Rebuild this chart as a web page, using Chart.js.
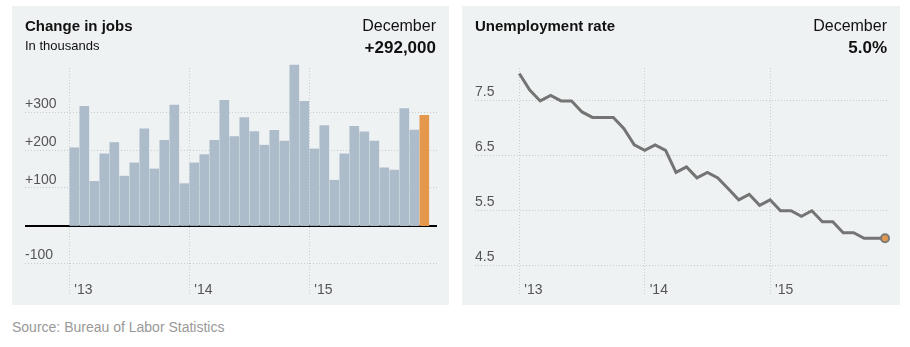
<!DOCTYPE html>
<html>
<head>
<meta charset="utf-8">
<script src="https://cdn.jsdelivr.net/npm/chart.js@4.4.1/dist/chart.umd.min.js"></script>
<style>
  html, body { margin: 0; padding: 0; background: #fff; }
  body { width: 910px; height: 347px; position: relative; overflow: hidden; font-family: 'Liberation Sans', Arial, sans-serif; }
  .panel { position: absolute; top: 6px; height: 299px; background: #eff2f3; }
  .panel canvas { position: absolute; left: 0; top: 0; }
  .txt { position: absolute; white-space: nowrap; color: #111; line-height: 20px; }
  .title { left: 13px; top: 10px; font-size: 15px; font-weight: bold; }
  .sub { left: 13px; top: 30px; font-size: 13px; }
  .month { right: 13px; top: 10px; font-size: 16px; }
  .latest { right: 13px; top: 32px; font-size: 17px; font-weight: bold; }
  .source { left: 12px; top: 317px; font-size: 14px; color: #999; }
</style>
</head>
<body>
<div class="panel" style="left:12px;width:437px;">
  <canvas id="jobs" width="437" height="299"></canvas>
  <div class="txt title">Change in jobs</div>
  <div class="txt sub">In thousands</div>
  <div class="txt month">December</div>
  <div class="txt latest">+292,000</div>
</div>
<div class="panel" style="left:462px;width:438px;">
  <canvas id="rate" width="438" height="299"></canvas>
  <div class="txt title">Unemployment rate</div>
  <div class="txt month">December</div>
  <div class="txt latest">5.0%</div>
</div>
<div class="txt source">Source: Bureau of Labor Statistics</div>

<script>
// monthly values, Jan 2013 .. Dec 2015
const jobChange = [
  206, 316, 117, 190, 220, 131, 166, 256, 150, 226, 319, 111,
  166, 188, 226, 332, 236, 286, 249, 213, 252, 224, 425, 329,
  203, 265, 120, 190, 263, 248, 224, 153, 147, 310, 253, 292
];
const unemploymentRate = [
  8.0, 7.7, 7.5, 7.6, 7.5, 7.5, 7.3, 7.2, 7.2, 7.2, 7.0, 6.7,
  6.6, 6.7, 6.6, 6.2, 6.3, 6.1, 6.2, 6.1, 5.9, 5.7, 5.8, 5.6,
  5.7, 5.5, 5.5, 5.4, 5.5, 5.3, 5.3, 5.1, 5.1, 5.0, 5.0, 5.0
];
const yearStart = [0, 12, 24];          // month index of each January
const yearLabels = ["'13", "'14", "'15"];
const jobTicks = [-100, 100, 200, 300];
const rateTicks = [4.5, 5.5, 6.5, 7.5];

const BLUE = '#adbccb';
const ORANGE = '#e3984c';
const GRID = '#c9cdd0';
const TICK = '#555';

Chart.defaults.font.family = "'Liberation Sans', Arial, sans-serif";

// shared x axis: dotted year lines, labels tucked inside the plot at the bottom
const xAxis = (min, max) => ({
  type: 'linear', min: min, max: max,
  offset: false,
  afterBuildTicks: s => { s.ticks = yearStart.map(v => ({ value: v })); },
  afterFit: s => { s.height = 0; },
  grid: { color: GRID, drawTicks: false, offset: false },
  border: { display: false, dash: [1, 2] },
  ticks: {
    autoSkip: false, maxRotation: 0, mirror: true, align: 'start', labelOffset: 5, padding: -5,
    color: TICK, font: { size: 14 },
    callback: (v, i) => yearLabels[i]
  }
});

const yAxis = (min, max, vals, fmt, lift) => ({
  min: min, max: max,
  afterBuildTicks: s => { s.ticks = vals.map(v => ({ value: v })); },
  afterFit: s => { s.width = 0; },
  grid: { color: GRID, drawTicks: false },
  border: { display: false, dash: [1, 2] },
  ticks: { mirror: true, padding: 0, labelOffset: lift, color: TICK, font: { size: 14 }, callback: fmt }
});

const jobsMin = -181.3, jobsMax = 417.4;

new Chart(document.getElementById('jobs'), {
  type: 'bar',
  data: {
    datasets: [{
      data: jobChange.map((v, i) => ({ x: i + 0.5, y: v })),
      backgroundColor: jobChange.map((v, i) => i === jobChange.length - 1 ? ORANGE : BLUE),
      barThickness: 9,
      yAxisID: 'y',
      clip: false
    }]
  },
  options: {
    responsive: false,
    animation: false,
    layout: { padding: { left: 13, right: 12, top: 62, bottom: 11 } },
    plugins: { legend: { display: false }, tooltip: { enabled: false } },
    scales: {
      x: xAxis(-4.43, 36.77),
      y: yAxis(jobsMin, jobsMax, jobTicks, v => (v > 0 ? '+' : '') + v, -8),
      zero: {
        axis: 'y', position: 'left', type: 'linear', min: jobsMin, max: jobsMax, z: 1,
        afterBuildTicks: s => { s.ticks = [{ value: 0 }]; },
        afterFit: s => { s.width = 0; },
        grid: { color: '#000', lineWidth: 2, drawTicks: false },
        border: { display: false },
        ticks: { display: false }
      }
    }
  }
});

new Chart(document.getElementById('rate'), {
  type: 'line',
  data: {
    datasets: [{
      data: unemploymentRate.map((v, i) => ({ x: i, y: v })),
      borderColor: '#747474',
      borderWidth: 3,
      tension: 0,
      pointRadius: unemploymentRate.map((v, i) => i === unemploymentRate.length - 1 ? 4 : 0),
      pointBackgroundColor: ORANGE,
      pointBorderColor: '#7a7a7a',
      pointBorderWidth: 2,
      clip: false
    }]
  },
  options: {
    responsive: false,
    animation: false,
    layout: { padding: { left: 13, right: 13, top: 62, bottom: 11 } },
    plugins: { legend: { display: false }, tooltip: { enabled: false } },
    scales: {
      x: xAxis(-4.24, 35.19),
      y: yAxis(3.985, 8.10, rateTicks, v => v.toFixed(1), -9)
    }
  }
});
</script>
</body>
</html>
